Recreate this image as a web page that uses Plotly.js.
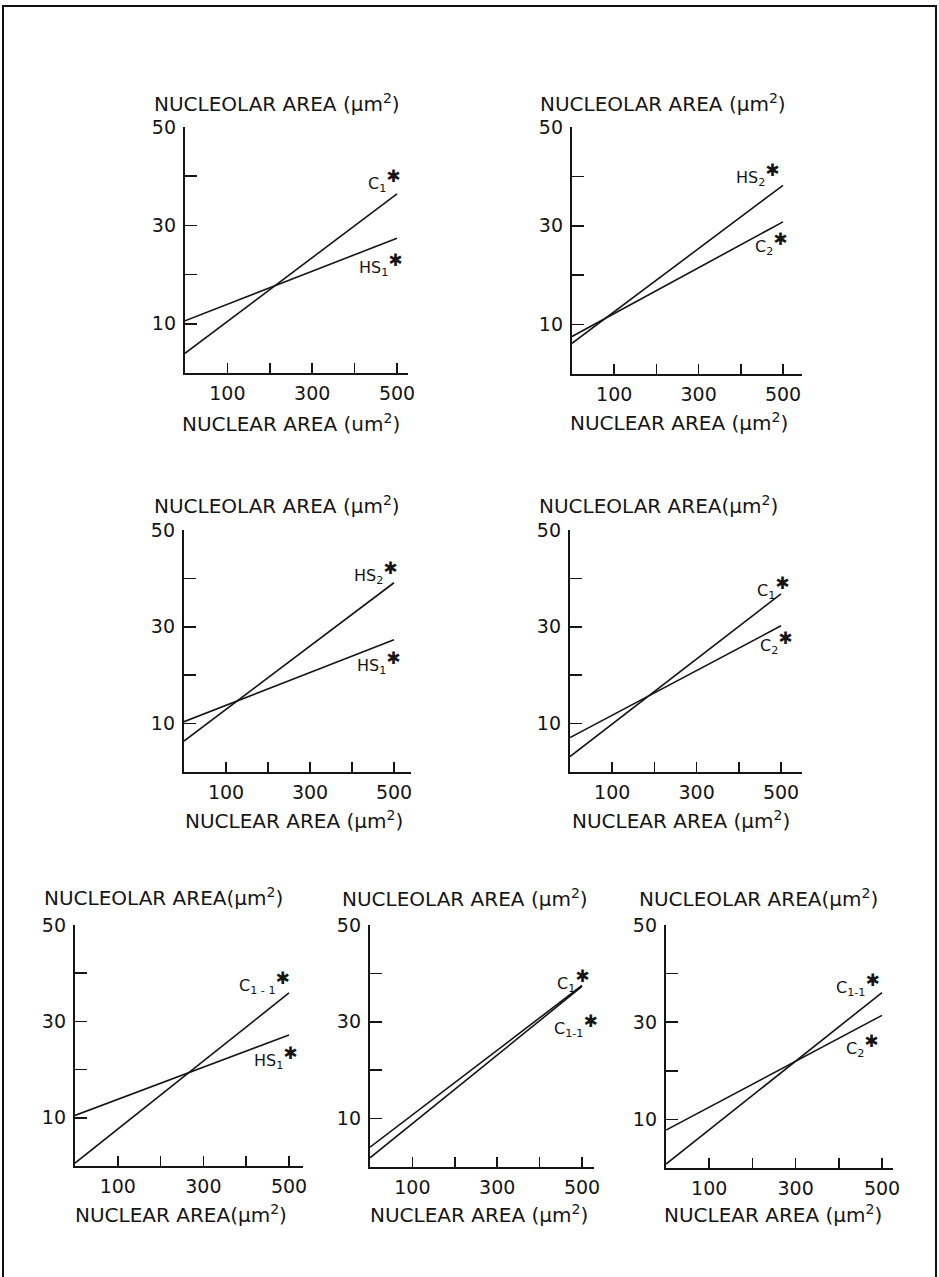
<!DOCTYPE html>
<html>
<head>
<meta charset="utf-8">
<script src="https://cdn.plot.ly/plotly-3.0.1.min.js"></script>
<style>html,body{margin:0;padding:0;background:#fff;}#chart{width:939px;height:1277px;}</style>
</head>
<body>
<div id="chart"></div>
<script>
// ---------- DATA ----------
const xNuclear = [0, 500];                 // nuclear area (µm²), line end points
const p1_C1   = [4.0, 36.4];
const p1_HS1  = [10.6, 27.4];
const p2_HS2  = [6.2, 38.2];
const p2_C2   = [7.6, 30.8];
const p3_HS2  = [6.4, 39.1];
const p3_HS1  = [10.4, 27.3];
const p4_C1   = [3.2, 36.8];
const p4_C2   = [7.1, 30.2];
const p5_C11  = [0.6, 35.9];
const p5_HS1  = [10.5, 27.2];
const p6_C1   = [4.1, 37.5];
const p6_C11  = [1.9, 37.3];
const p7_C11  = [0.8, 36.1];
const p7_C2   = [7.8, 31.4];
const xTickVals = [100, 200, 300, 400, 500];
const xTickText = ['100', '', '300', '', '500'];
const yTickVals = [10, 20, 30, 40, 50];
const yTickText = ['10', '', '30', '', '50'];
const yTitleText = ['NUCLEOLAR AREA (µm<sup>2</sup>)','NUCLEOLAR AREA (µm<sup>2</sup>)','NUCLEOLAR AREA (µm<sup>2</sup>)','NUCLEOLAR AREA(µm<sup>2</sup>)','NUCLEOLAR AREA(µm<sup>2</sup>)','NUCLEOLAR AREA (µm<sup>2</sup>)','NUCLEOLAR AREA(µm<sup>2</sup>)'];
const xTitleText = ['NUCLEAR AREA (um<sup>2</sup>)','NUCLEAR AREA (µm<sup>2</sup>)','NUCLEAR AREA (µm<sup>2</sup>)','NUCLEAR AREA (µm<sup>2</sup>)','NUCLEAR AREA(µm<sup>2</sup>)','NUCLEAR AREA (µm<sup>2</sup>)','NUCLEAR AREA (µm<sup>2</sup>)'];
const STAR = '<sup><span style="font-size:17px">✱</span></sup>';
const panelSeries = [
  [{name:'C<sub>1</sub>', y:p1_C1}, {name:'HS<sub>1</sub>', y:p1_HS1}],
  [{name:'HS<sub>2</sub>', y:p2_HS2}, {name:'C<sub>2</sub>', y:p2_C2}],
  [{name:'HS<sub>2</sub>', y:p3_HS2}, {name:'HS<sub>1</sub>', y:p3_HS1}],
  [{name:'C<sub>1</sub>', y:p4_C1}, {name:'C<sub>2</sub>', y:p4_C2}],
  [{name:'C<sub>1 - 1</sub>', y:p5_C11}, {name:'HS<sub>1</sub>', y:p5_HS1}],
  [{name:'C<sub>1</sub>', y:p6_C1}, {name:'C<sub>1-1</sub>', y:p6_C11}],
  [{name:'C<sub>1-1</sub>', y:p7_C11}, {name:'C<sub>2</sub>', y:p7_C2}]
];

// ---------- LAYOUT GEOMETRY (pixels) ----------
const W = 939, H = 1277;
const px = v => v / W;
const py = v => 1 - v / H;
const geom = [
  {x0:185, x500:397, x1:408, yTop:127, yBot:373, yt:[152,103], xt:[180,423]},
  {x0:572, x500:783, x1:802, yTop:127, yBot:374, yt:[538,103], xt:[568,422]},
  {x0:184, x500:394, x1:411, yTop:530, yBot:772, yt:[152,505], xt:[183,820]},
  {x0:570, x500:781, x1:802, yTop:530, yBot:772, yt:[537,505], xt:[570,820]},
  {x0:75,  x500:289, x1:303, yTop:925, yBot:1166, yt:[42,897], xt:[73,1214]},
  {x0:370, x500:582, x1:594, yTop:925, yBot:1167, yt:[340,898], xt:[368,1214]},
  {x0:666, x500:882, x1:893, yTop:925, yBot:1168, yt:[637,898], xt:[662,1214]}
];
// label anchors (right edge, in data units) for each series label
const labelPos = [
  [[514,39.2],[519,22.0]],
  [[498,40.3],[517,26.5]],
  [[514,41.3],[521,22.7]],
  [[526,38.2],[533,26.7]],
  [[507,38.0],[526,22.6]],
  [[524,38.6],[542,29.3]],
  [[500,37.7],[497,25.2]]
];

const FONT = 'DejaVu Sans';
const INK = '#151515';
const data = [];
const layout = {
  width: W, height: H,
  margin: {l:0, r:0, t:0, b:0},
  paper_bgcolor: '#fff', plot_bgcolor: 'rgba(0,0,0,0)',
  showlegend: false,
  annotations: [],
  shapes: [{type:'rect', xref:'paper', yref:'paper', x0:px(3), x1:px(936), y0:-0.05, y1:py(6),
            line:{color:'#111', width:2}}]
};

geom.forEach((g, i) => {
  const n = i + 1;
  const xs = n === 1 ? '' : String(n);
  const xmax = 500 * (g.x1 - g.x0) / (g.x500 - g.x0);
  const dataToPaperX = v => px(g.x0 + v * (g.x500 - g.x0) / 500);
  const dataToPaperY = v => py(g.yBot - v * (g.yBot - g.yTop) / 50);
  layout['xaxis' + xs] = {
    domain: [px(g.x0), px(g.x1)], range: [0, xmax], anchor: 'y' + xs,
    showline: true, linewidth: 2, linecolor: INK, mirror: false,
    ticks: 'inside', ticklen: 10, tickwidth: 1.5, tickcolor: INK,
    tickmode: 'array', tickvals: xTickVals, ticktext: xTickText,
    tickfont: {family: FONT, size: 19, color: INK}, ticklabelstandoff: 2,
    showgrid: false, zeroline: false, fixedrange: true
  };
  layout['yaxis' + xs] = {
    domain: [py(g.yBot), py(g.yTop)], range: [0, 50], anchor: 'x' + xs,
    showline: true, linewidth: 2.2, linecolor: INK, mirror: false,
    ticks: 'inside', ticklen: 12, tickwidth: 1.5, tickcolor: INK,
    tickmode: 'array', tickvals: yTickVals, ticktext: yTickText,
    tickfont: {family: FONT, size: 19, color: INK}, ticklabelstandoff: 3,
    showgrid: false, zeroline: false, fixedrange: true
  };
  panelSeries[i].forEach((s, k) => {
    data.push({
      type: 'scatter', mode: 'lines', x: xNuclear, y: s.y,
      xaxis: 'x' + xs, yaxis: 'y' + xs,
      line: {color: INK, width: 1.6}, hoverinfo: 'skip', cliponaxis: false
    });
    const lp = labelPos[i][k];
    layout.annotations.push({
      xref: 'paper', yref: 'paper', x: dataToPaperX(lp[0]), y: dataToPaperY(lp[1]),
      xanchor: 'right', yanchor: 'middle', showarrow: false,
      text: s.name + STAR, font: {family: FONT, size: 16, color: INK}
    });
  });
  layout.annotations.push({
    xref: 'paper', yref: 'paper', x: px(g.yt[0]), y: py(g.yt[1]),
    xanchor: 'left', yanchor: 'middle', showarrow: false,
    text: yTitleText[i], font: {family: FONT, size: 20, color: INK}
  });
  layout.annotations.push({
    xref: 'paper', yref: 'paper', x: px(g.xt[0]), y: py(g.xt[1]),
    xanchor: 'left', yanchor: 'middle', showarrow: false,
    text: xTitleText[i], font: {family: FONT, size: 20, color: INK}
  });
});

Plotly.newPlot('chart', data, layout, {staticPlot: true, displayModeBar: false});
</script>
</body>
</html>
